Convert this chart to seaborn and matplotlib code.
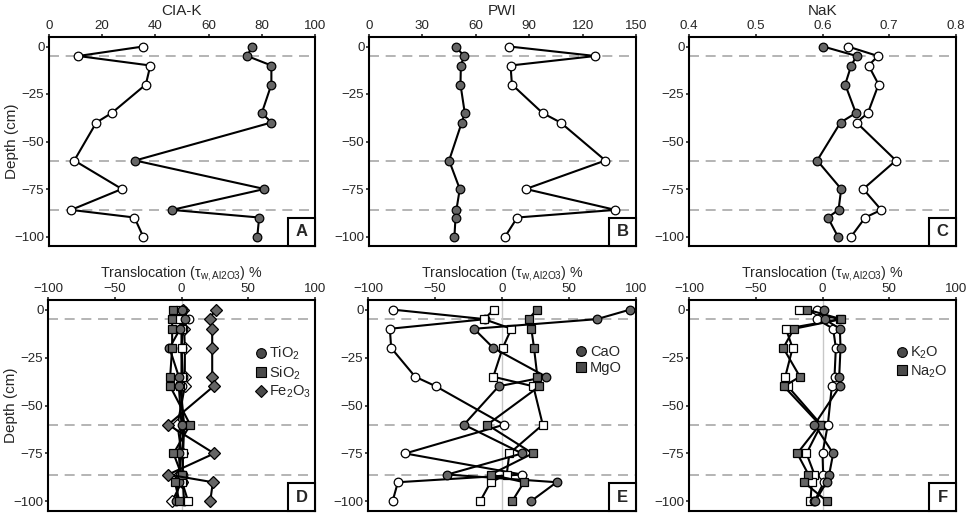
import matplotlib
matplotlib.use("Agg")
import matplotlib.pyplot as plt
import seaborn as sns
import pandas as pd
from matplotlib.lines import Line2D
from matplotlib.patches import Rectangle

# ---------------- data ----------------
depth = [0, -5, -10, -20, -35, -40, -60, -75, -86, -90, -100]
dashed_depths = [-5, -60, -86]

ciak_grey = [76.4, 74.5, 83.6, 83.6, 80.0, 83.6, 32.4, 81.0, 46.2, 79.0, 78.3]
ciak_white = [35.4, 11.0, 38.1, 36.4, 23.6, 17.8, 9.5, 27.4, 8.3, 32.1, 35.4]

pwi_grey = [48.6, 53.4, 51.6, 51.4, 53.8, 52.1, 45.0, 51.0, 49.1, 48.6, 48.0]
pwi_white = [78.8, 127.1, 79.5, 80.3, 97.5, 107.6, 132.8, 88.1, 138.4, 83.3, 76.5]

nak_grey = [0.601, 0.651, 0.643, 0.634, 0.650, 0.627, 0.592, 0.628, 0.624, 0.608, 0.623]
nak_white = [0.638, 0.683, 0.669, 0.684, 0.668, 0.651, 0.710, 0.661, 0.688, 0.664, 0.643]

tio2_grey = [0, 2.5, -1, -9, -2, -2, 0, -2, -1, -2, -4]
tio2_white = [1, 5.5, 1, 0, 1, 0, 1, 1, 1, 1, 2]
sio2_grey = [-6, -7, -7, -7, -8.5, -8.5, 6.5, -6, 0, -5, -1.5]
sio2_white = [-1, -2, 0, 0, 0, -1, 2, 1.2, 0.5, 0.5, 5]
fe2o3_grey = [25.5, 21, 23, 23, 23, 24, -10, 24.5, -10, 23.5, 21.5]
fe2o3_white = [1, 1, 2, 2.5, 2.5, 2.5, -3, 0, -2, 0, -7]

cao_grey = [95.6, 70.7, -20.9, -6.5, 32.9, -2.5, -28.4, 15.0, -40.8, 40.8, 21.4]
cao_white = [-81.7, -12.5, -83.7, -82.7, -64.8, -49.3, 1.5, -72.2, 15.0, -77.7, -81.7]
mgo_grey = [25.9, 19.9, 21.9, 23.9, 26.4, 27.9, -11.0, 22.9, -8.5, 16.4, 7.5]
mgo_white = [-6.0, -13.4, 7.0, 0.5, -6.5, 23.4, 30.4, 5.5, 3.5, -8.5, -16.4]

k2o_grey = [1, 1.5, 13, 13.5, 12.5, 13, -6, 8, 5, 3, -5.5]
k2o_white = [-4, -4, 8, 10, 9, 7, 4, 0, 0.5, 1, -6]
na2o_grey = [-11.5, 14, -21.4, -29.4, -16.9, -28.9, -2, -18.9, -10.5, -14, 3.5]
na2o_white = [-17.4, 13, -27.4, -22.4, -27.9, -26, -1, -12, -6, -8, -9]

cia_ticks = [0, 20, 40, 60, 80, 100]
pwi_ticks = [0, 30, 60, 90, 120, 150]
nak_ticks = [0.4, 0.5, 0.6, 0.7, 0.8]
tau_ticks = [-100, -50, 0, 50, 100]
depth_ticks = [0, -25, -50, -75, -100]

# ---------------- style ----------------
sns.set_style("ticks")
plt.rcParams["font.family"] = ["Liberation Sans", "DejaVu Sans"]
plt.rcParams["mathtext.fontset"] = "custom"
plt.rcParams["mathtext.rm"] = "Liberation Sans"
plt.rcParams["mathtext.it"] = "Liberation Sans:italic"
plt.rcParams["mathtext.bf"] = "Liberation Sans:bold"

GREY = "#656565"
MS = 6.2
W, H = 970, 516
fig = plt.figure(figsize=(W / 100, H / 100), dpi=100)


def make_ax(l, r, t, b):
    return fig.add_axes([l / W, 1 - b / H, (r - l) / W, (b - t) / H])


tau_label = r"Translocation (τ$_{\mathrm{w,Al2O3}}$) %"


def setup(ax, xlim, xticks, title, letter, title_y, title_size, ylabel=False, zero_line=False):
    for d in dashed_depths:
        ax.axhline(d, color="#a8a8a8", lw=1.2, ls=(0, (6, 4)), zorder=1)
    if zero_line:
        ax.axvline(0, color="#c8c8c8", lw=1.0, zorder=1)
    ax.set_xlim(*xlim)
    ax.set_ylim(-105, 5)
    ax.set_xticks(xticks)
    ax.set_xticklabels([("%g" % v).replace("-", "\u2212") for v in xticks])
    ax.set_yticks(depth_ticks)
    ax.set_yticklabels([("%g" % v).replace("-", "\u2212") for v in depth_ticks])
    ax.xaxis.tick_top()
    ax.xaxis.set_label_position("top")
    ax.set_xlabel(title, fontsize=title_size)
    ax.xaxis.set_label_coords(0.5, title_y)
    if ylabel:
        ax.set_ylabel("Depth (cm)", fontsize=11)
        ax.yaxis.set_label_coords(-0.112, 0.5)
    else:
        ax.set_ylabel("")
    ax.tick_params(axis="both", labelsize=9.6, length=2.3, width=1.2, direction="out", pad=1.0)
    for s in ax.spines.values():
        s.set_visible(True)
        s.set_linewidth(1.5)
        s.set_color("black")
    ax.tick_params(axis="x", which="both", top=True, bottom=False)
    ax.tick_params(axis="y", which="both", left=True, right=False)
    w = 27 / (ax.get_position().width * W)
    h = 28 / (ax.get_position().height * H)
    ax.add_patch(Rectangle((1 - w, 0), w, h, transform=ax.transAxes, fc="white",
                           ec="black", lw=1.5, zorder=6, clip_on=False))
    ax.text(1 - w / 2, h / 2, letter, transform=ax.transAxes, ha="center", va="center",
            fontsize=12, fontweight="bold", zorder=7)


def series(ax, vals, fill, marker="o", ms=MS):
    df = pd.DataFrame({"v": vals, "d": depth})
    sns.lineplot(data=df, x="v", y="d", ax=ax, sort=False, estimator=None,
                 color="black", lw=1.5, marker=marker, markersize=ms,
                 markerfacecolor=fill, markeredgecolor="black", markeredgewidth=0.9,
                 legend=False)


def legend(ax, items):
    handles = [Line2D([], [], ls="none", marker=m, markersize=ms, markerfacecolor="#4a4a4a",
                      markeredgecolor="black", markeredgewidth=0.8) for m, ms, _ in items]
    ax.legend(handles, [t for _, _, t in items], loc="upper left", bbox_to_anchor=(0.755, 0.815),
              frameon=False, fontsize=10.5, handlelength=0.7, handletextpad=0.25,
              labelspacing=0.15, borderaxespad=0)


TOP_Y = 1.105
BOT_Y = 1.11

# top row
axA = make_ax(49, 315, 37, 246)
series(axA, ciak_white, "white")
series(axA, ciak_grey, GREY)
setup(axA, (0, 100), cia_ticks, "CIA-K", "A", TOP_Y, 11, ylabel=True)

axB = make_ax(369, 636, 37, 246)
series(axB, pwi_grey, GREY)
series(axB, pwi_white, "white")
setup(axB, (0, 150), pwi_ticks, "PWI", "B", TOP_Y, 11)

axC = make_ax(689, 956, 37, 246)
series(axC, nak_grey, GREY)
series(axC, nak_white, "white")
setup(axC, (0.4, 0.8), nak_ticks, "NaK", "C", TOP_Y, 11)

# bottom row
axD = make_ax(48, 315, 300, 511)
series(axD, fe2o3_white, "white", "D", 5.8)
series(axD, tio2_white, "white", "o")
series(axD, sio2_white, "white", "s")
series(axD, tio2_grey, GREY, "o")
series(axD, sio2_grey, GREY, "s")
series(axD, fe2o3_grey, GREY, "D", 5.8)
setup(axD, (-100, 100), tau_ticks, tau_label, "D", BOT_Y, 10.3, ylabel=True, zero_line=True)
legend(axD, [("o", 7, "TiO$_2$"), ("s", 7, "SiO$_2$"), ("D", 6.5, "Fe$_2$O$_3$")])

axE = make_ax(368, 636, 300, 511)
series(axE, cao_white, "white", "o")
series(axE, mgo_white, "white", "s")
series(axE, cao_grey, GREY, "o")
series(axE, mgo_grey, GREY, "s")
setup(axE, (-100, 100), tau_ticks, tau_label, "E", BOT_Y, 10.3, zero_line=True)
legend(axE, [("o", 7, "CaO"), ("s", 7, "MgO")])

axF = make_ax(689, 956, 300, 511)
series(axF, na2o_white, "white", "s")
series(axF, k2o_white, "white", "o")
series(axF, na2o_grey, GREY, "s")
series(axF, k2o_grey, GREY, "o")
setup(axF, (-100, 100), tau_ticks, tau_label, "F", BOT_Y, 10.3, zero_line=True)
legend(axF, [("o", 7, "K$_2$O"), ("s", 7, "Na$_2$O")])

fig.savefig("out.png", dpi=100)
